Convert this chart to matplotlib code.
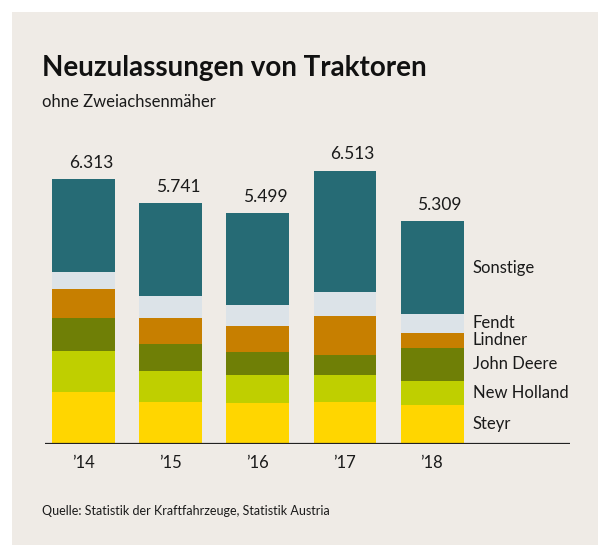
import matplotlib
matplotlib.use("Agg")
import matplotlib.pyplot as plt
from matplotlib.patches import Rectangle

years = ["’14", "’15", "’16", "’17", "’18"]
totals = [6313, 5741, 5499, 6513, 5309]
brands = ["Steyr", "New Holland", "John Deere", "Lindner", "Fendt", "Sonstige"]
steyr = [1239, 1000, 977, 1000, 929]
new_holland = [977, 738, 667, 643, 572]
john_deere = [786, 643, 548, 476, 786]
lindner = [691, 619, 619, 929, 357]
fendt = [405, 524, 500, 572, 453]
sonstige = [t - (a + b + c + d + e) for t, a, b, c, d, e in
            zip(totals, steyr, new_holland, john_deere, lindner, fendt)]
series = [steyr, new_holland, john_deere, lindner, fendt, sonstige]
colors = ["#ffd600", "#bfcf00", "#6f7f06", "#c77f00", "#dce3e8", "#266b75"]

plt.rcParams['font.family'] = ['Lato', 'DejaVu Sans']

W, H = 598, 545
fig = plt.figure(figsize=(W / 100, H / 100), dpi=100, facecolor="white")
bg = "#efebe6"
fig.patches.append(Rectangle((12 / W, 0), 1 - 12 / W, 1 - 12 / H,
                             transform=fig.transFigure, facecolor=bg,
                             edgecolor="none", zorder=-10))

left_px, right_px, base_px, top_px = 45, 570, 444, 150
ax = fig.add_axes([left_px / W, (H - base_px) / H, (right_px - left_px) / W,
                   (base_px - top_px) / H])
ax.set_facecolor("none")
ax.set_xlim(-0.448, 5.586)
ax.set_ylim(0, 7003)
for s in ax.spines.values():
    s.set_visible(False)
ax.set_yticks([])

x = list(range(len(years)))
bottom = [0] * len(years)
for vals, col in zip(series, colors):
    ax.bar(x, vals, width=0.724, bottom=bottom, color=col, edgecolor="none", zorder=2)
    bottom = [b + v for b, v in zip(bottom, vals)]

ax.axhline(0, color="#222222", lw=1.6, zorder=3)

for xi, t in zip(x, totals):
    ax.text(xi + 0.08, t + 200, f"{t:,}".replace(",", "."), ha="center", va="bottom",
            fontsize=12.5, color="#1a1a1a")

# segment labels next to last bar
cum = 0
last = len(years) - 1
for name, vals in zip(brands, series):
    mid = cum + vals[last] / 2
    cum += vals[last]
    ax.text(last + 0.47, mid, name, ha="left", va="center", fontsize=12, color="#1a1a1a")

ax.set_xticks(x)
ax.set_xticklabels(years, fontsize=12, color="#1a1a1a")
ax.tick_params(axis="x", length=0, pad=8)

fig.text(42 / W, 1 - 68 / H, "Neuzulassungen von Traktoren", ha="left", va="center",
         fontsize=20, fontweight="bold", color="#111111")
fig.text(42 / W, 1 - 102 / H, "ohne Zweiachsenmäher", ha="left", va="center",
         fontsize=12, color="#1a1a1a")
fig.text(42 / W, 1 - 511 / H, "Quelle: Statistik der Kraftfahrzeuge, Statistik Austria",
         ha="left", va="center", fontsize=9, color="#1a1a1a")

fig.savefig("out.png", dpi=100, facecolor=fig.get_facecolor())
